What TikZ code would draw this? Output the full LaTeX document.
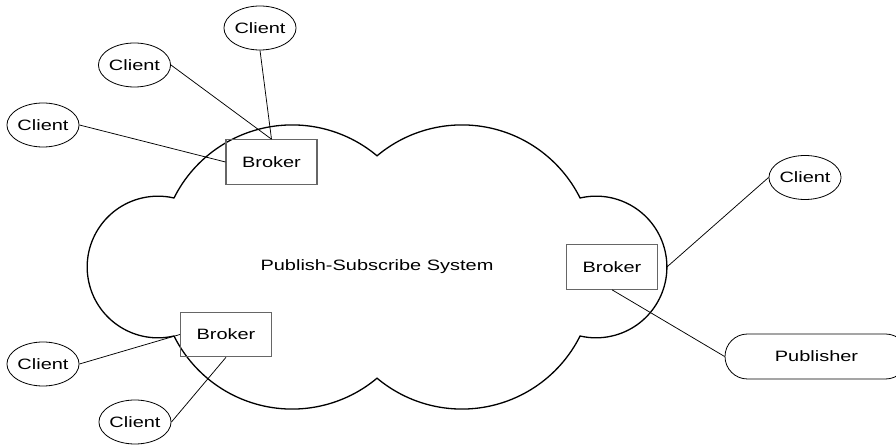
\documentclass[tikz,border=0pt]{standalone}
\usepackage{fontspec}
\setmainfont[FakeStretch=1.33]{Liberation Sans}
\usetikzlibrary{shapes.geometric}
\begin{document}
\begin{tikzpicture}[x=1pt,y=1pt,
  client/.style={ellipse, draw=black, line width=0.8pt, minimum width=68pt, minimum height=44pt, inner sep=0pt, font=\fontsize{15}{18}\selectfont},
  broker/.style={rectangle, draw=black!60, line width=1.1pt, minimum width=91pt, minimum height=44.5pt, inner sep=0pt, font=\fontsize{15}{18}\selectfont},
  pubbox/.style={rectangle, rounded corners=22.5pt, draw=black, line width=0.8pt, minimum width=183pt, minimum height=45pt, inner sep=0pt, font=\fontsize{15}{18}\selectfont},
  link/.style={draw=black, line width=0.75pt},
  cloudline/.style={draw=black, line width=1.3pt},
  lbl/.style={inner sep=0pt, font=\fontsize{15}{18}\selectfont}]
\clip (0,0) rectangle (896,444);
\fill[white] (0,0) rectangle (896,444);
% cloud
\draw[cloudline] (174,246)
  arc[start angle=153.47, end angle=50, radius=132.06]
  arc[start angle=130, end angle=26.53, radius=132.06]
  arc[start angle=103.05, end angle=-103.05, radius=70.83]
  arc[start angle=-26.53, end angle=-130, radius=132.06]
  arc[start angle=-50, end angle=-153.47, radius=132.06]
  arc[start angle=283.05, end angle=76.95, radius=70.83] -- cycle;
\node[lbl] (sys) at (377,177) {Publish-Subscribe System};
\coordinate (cr) at (666.9,177);
% nodes
\node[client] (c1) at (260,416) {Client};
\node[client] (c2) at (134.5,379) {Client};
\node[client] (c3) at (43,319) {Client};
\node[broker] (b1) at (271.5,282) {Broker};
\node[client] (c4) at (805,266.5) {Client};
\node[broker] (b2) at (612,177) {Broker};
\node[pubbox] (pub) at (816.5,87.5) {Publisher};
\node[broker] (b3) at (226,109.5) {Broker};
\node[client] (c5) at (43,80) {Client};
\node[client] (c6) at (135,22) {Client};
% connectors
\draw[link] (c1.south) -- (b1.north);
\draw[link] (c2.east) -- (b1.north);
\draw[link] (c3.east) -- (b1.west);
\draw[link] (c4.west) -- (cr);
\draw[link] (b2.south) -- (pub.west);
\draw[link] (c5.east) -- (b3.west);
\draw[link] (c6.east) -- (b3.south);
\end{tikzpicture}
\end{document}
